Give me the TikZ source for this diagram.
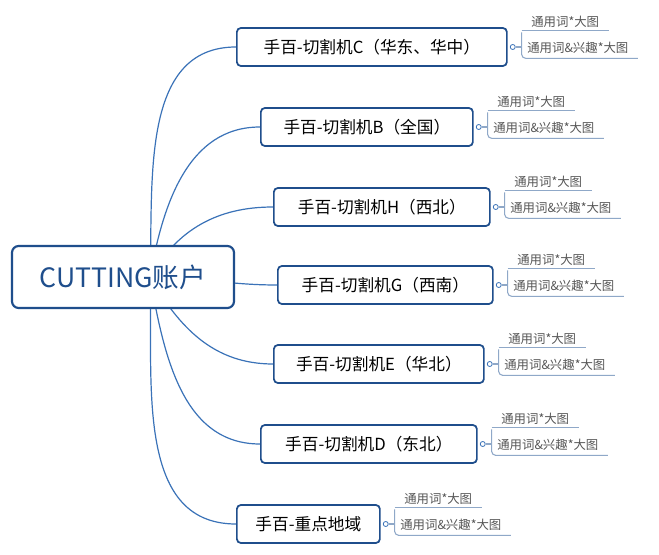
\documentclass[tikz,border=0pt]{standalone}
\usepackage{fontspec}
\setmainfont{Noto Sans CJK SC}
\definecolor{boxblue}{HTML}{1F4E8C}
\definecolor{linkblue}{HTML}{3A72B8}
\definecolor{leafgray}{HTML}{555555}
\definecolor{leafline}{HTML}{8FA8C8}
\newlength{\pxunit}
\setlength{\pxunit}{0.75pt}
\tikzset{
  rootbox/.style={draw=boxblue, line width=1.6pt, rounded corners=5pt, fill=white,
    minimum width=222\pxunit, minimum height=62\pxunit, font=\fontsize{20}{22}\selectfont, text=boxblue},
  topicbox/.style={draw=boxblue, line width=1.3pt, rounded corners=3pt, fill=white, anchor=west,
    minimum height=38\pxunit, inner sep=2pt, font=\fontsize{12.5}{14}\selectfont, text=black},
  leaf/.style={anchor=west, inner sep=1pt, font=\fontsize{9.3}{11}\selectfont, text=leafgray},
  link/.style={draw=linkblue, line width=0.9pt},
  knob/.style={circle, draw=linkblue, line width=0.6pt, fill=white, inner sep=0pt, minimum size=5\pxunit},
}
\newcommand{\leaves}[2]{% #1 topic node name, #2 centre y
  \node[knob] (#1k) at ([xshift=5\pxunit]#1.east) {};
  \node[leaf] (#1a) at ([xshift=17\pxunit, yshift=25\pxunit]#1k) {通用词*大图};
  \node[leaf] (#1b) at ([xshift=13\pxunit, yshift=-1\pxunit]#1k) {通用词\&兴趣*大图};
  \coordinate (#1s) at ([xshift=6\pxunit]#1k.east);
  \draw[leafline, line width=0.8pt] (#1k.east) -- (#1s);
  \draw[leafline, line width=0.8pt] ([yshift=-1\pxunit]#1a.south west -| #1s) -- ([xshift=8\pxunit, yshift=-1\pxunit]#1a.south east);
  \draw[leafline, line width=0.8pt, rounded corners=3pt] ([yshift=-3\pxunit]#1a.south west -| #1s) -- ([yshift=-3\pxunit]#1b.south west -| #1s) -- ([xshift=8\pxunit, yshift=-3\pxunit]#1b.south east);
}
\begin{document}
\begin{tikzpicture}[x=0.75pt, y=-0.75pt]
  \useasboundingbox[fill=white] (0,0) rectangle (659,555);

  % topics
  \node[topicbox, minimum width=270\pxunit] (tc) at (236,47) {手百-切割机C（华东、华中）};
  \node[topicbox, minimum width=212\pxunit] (tb) at (260,127) {手百-切割机B（全国）};
  \node[topicbox, minimum width=216\pxunit] (th) at (273,207) {手百-切割机H（西北）};
  \node[topicbox, minimum width=215\pxunit] (tg) at (277,285) {手百-切割机G（西南）};
  \node[topicbox, minimum width=210\pxunit] (te) at (273,364) {手百-切割机E（华北）};
  \node[topicbox, minimum width=216\pxunit] (td) at (260,444) {手百-切割机D（东北）};
  \node[topicbox, minimum width=143\pxunit] (tz) at (236,524) {手百-重点地域};

  % links from the root
  \coordinate (hub) at (150,277);
  \draw[link] (hub) to[out=88, in=180] (tc.west);
  \draw[link] (hub) to[out=80, in=180] (tb.west);
  \draw[link] (hub) to[out=60, in=180] (th.west);
  \draw[link] (hub) to[out=0, in=180] (tg.west);
  \draw[link] (hub) to[out=-60, in=180] (te.west);
  \draw[link] (hub) to[out=-80, in=180] (td.west);
  \draw[link] (hub) to[out=-88, in=180] (tz.west);

  \node[rootbox] (root) at (123,277) {CUTTING账户};

  % leaves
  \leaves{tc}{47}
  \leaves{tb}{127}
  \leaves{th}{207}
  \leaves{tg}{285}
  \leaves{te}{364}
  \leaves{td}{444}
  \leaves{tz}{524}
\end{tikzpicture}
\end{document}
